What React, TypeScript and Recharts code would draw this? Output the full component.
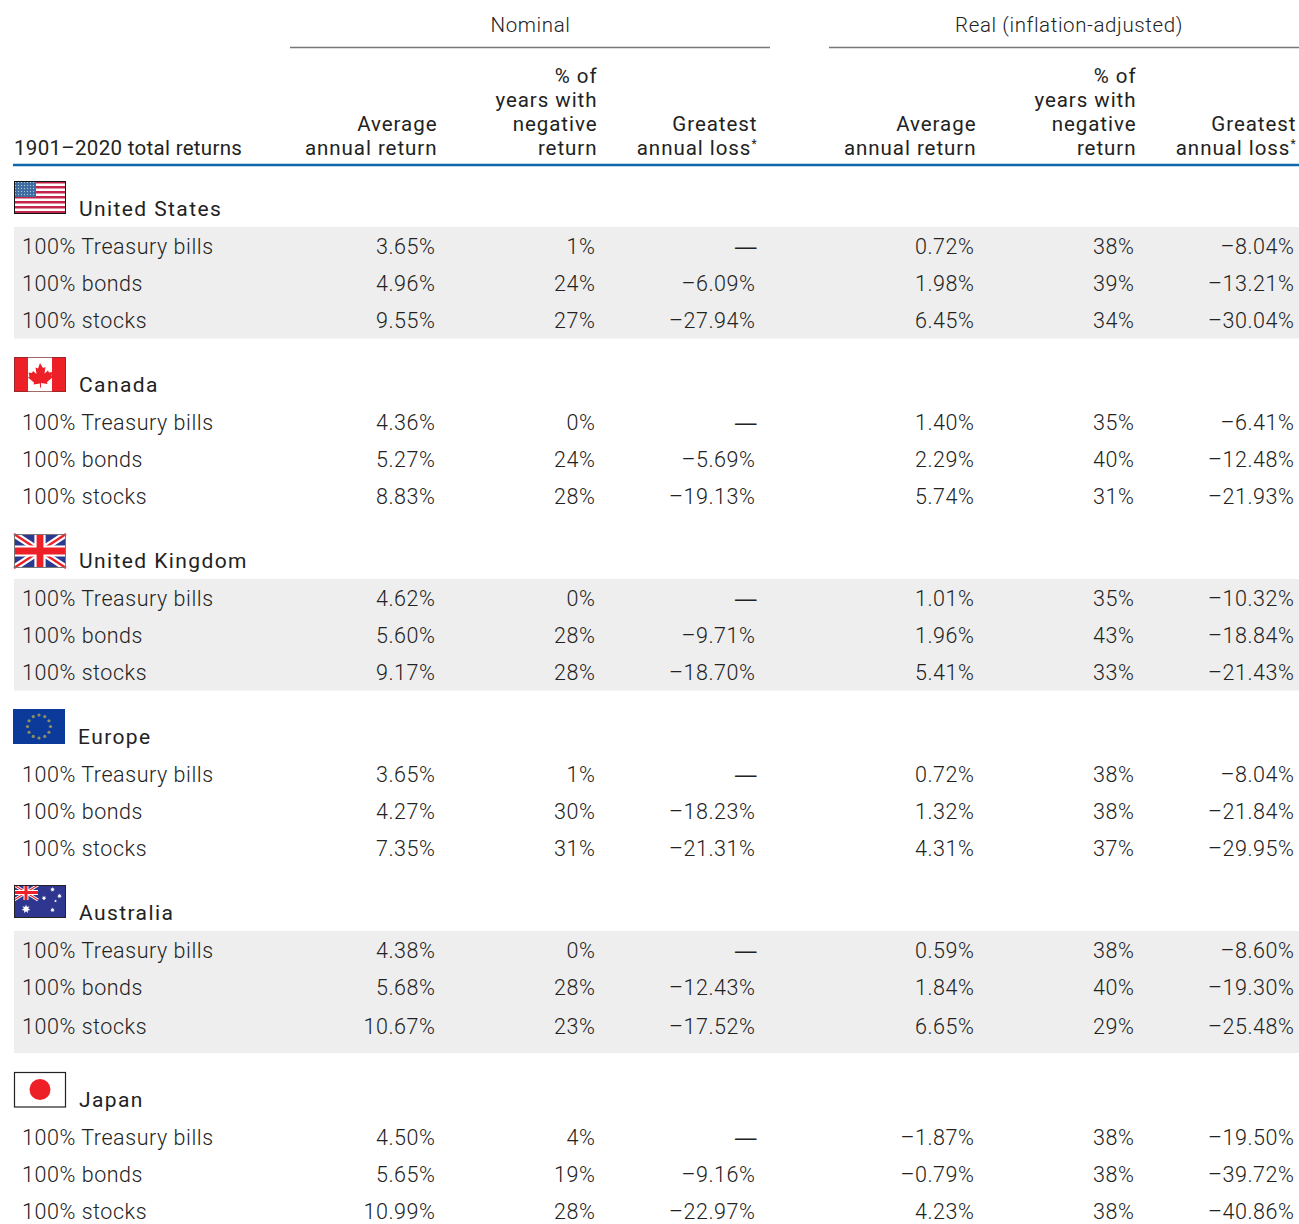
import { ScatterChart, Scatter, XAxis, YAxis, ReferenceArea, ReferenceLine } from 'recharts';

const regions = ['United States', 'Canada', 'United Kingdom', 'Europe', 'Australia', 'Japan'];
const assets = ['100% Treasury bills', '100% bonds', '100% stocks'];

// one value per region/asset row, reading top to bottom
const nominalAverage = [3.65, 4.96, 9.55, 4.36, 5.27, 8.83, 4.62, 5.6, 9.17, 3.65, 4.27, 7.35, 4.38, 5.68, 10.67, 4.5, 5.65, 10.99];
const nominalNegative = [1, 24, 27, 0, 24, 28, 0, 28, 28, 1, 30, 31, 0, 28, 23, 4, 19, 28];
const nominalLoss = [null, -6.09, -27.94, null, -5.69, -19.13, null, -9.71, -18.7, null, -18.23, -21.31, null, -12.43, -17.52, null, -9.16, -22.97];
const realAverage = [0.72, 1.98, 6.45, 1.4, 2.29, 5.74, 1.01, 1.96, 5.41, 0.72, 1.32, 4.31, 0.59, 1.84, 6.65, -1.87, -0.79, 4.23];
const realNegative = [38, 39, 34, 35, 40, 31, 35, 43, 33, 38, 38, 37, 38, 40, 29, 38, 38, 38];
const realLoss = [-8.04, -13.21, -30.04, -6.41, -12.48, -21.93, -10.32, -18.84, -21.43, -8.04, -21.84, -29.95, -8.6, -19.3, -25.48, -19.5, -39.72, -40.86];

const groupTitles = ['Nominal', 'Real (inflation-adjusted)'];
const tableTitle = '1901–2020 total returns';
const averageHeader = ['Average', 'annual return'];
const negativeHeader = ['% of', 'years with', 'negative', 'return'];
const lossHeader = ['Greatest', 'annual loss'];

// layout, in pixels of the page
const WIDTH = 1299;
const HEIGHT = 1224;
const FONT = 'Roboto, sans-serif';
const rowCenters = [246, 283, 320, 422, 459, 496, 598, 635, 672, 774, 811, 848, 950, 987, 1026, 1137, 1174, 1211];
const regionBaselines = [216, 392, 568, 744, 920, 1107];
const regionLeft = [79, 79, 79, 78, 79, 79];
const flagTops = [181, 357, 534, 709, 885, 1072];
const bands = [[227, 338.5], [579, 690.5], [931, 1053]];
const valueRight = [435.5, 595.5, 755.5, 974.5, 1134.5, 1294.5];
const headerRight = [437.5, 597.5, 757.5, 976.5, 1136.5, 1296.5];

const pct = (v: number | null, digits: number) => {
  if (v === null) return '—';
  const s = Math.abs(v).toFixed(digits) + '%';
  return v < 0 ? '–' + s : s;
};

const valueColumns = [
  { values: nominalAverage, digits: 2 },
  { values: nominalNegative, digits: 0 },
  { values: nominalLoss, digits: 2 },
  { values: realAverage, digits: 2 },
  { values: realNegative, digits: 0 },
  { values: realLoss, digits: 2 },
];

const rowLabels = rowCenters.map((y, i) => ({ x: 22, y: y + 7.6, label: assets[i % 3] }));
const regionLabels = regions.map((label, i) => ({ x: regionLeft[i], y: regionBaselines[i], label }));
const flags = regions.map((label, i) => ({ x: 14, y: flagTops[i], label }));

const valueCells = valueColumns.flatMap((col, c) =>
  col.values.map((v, i) => ({
    // the dash sits a little further out than the figures
    x: valueRight[c] + (v === null ? 1.5 : 0),
    y: rowCenters[i] + 7.6,
    label: pct(v, col.digits),
  }))
);

const headerCells = [averageHeader, negativeHeader, lossHeader, averageHeader, negativeHeader, lossHeader].flatMap((lines, c) =>
  lines.map((label, i) => ({
    x: headerRight[c],
    y: 155 - (lines.length - 1 - i) * 24,
    label,
    star: label === 'annual loss',
  }))
);

const titleCells = [
  { x: 530.5, y: 32, label: groupTitles[0] },
  { x: 1069, y: 32, label: groupTitles[1] },
];

const LeftText = ({ cx, cy, payload, size, weight, color, spacing }: any) => (
  <text x={cx} y={cy} textAnchor="start" fontFamily={FONT} fontSize={size} fontWeight={weight} fill={color} letterSpacing={spacing}>
    {payload.label}
  </text>
);

const RightText = ({ cx, cy, payload, size, weight, color, spacing }: any) => (
  <text
    x={cx}
    y={cy}
    textAnchor="end"
    // Roboto's em dash is too short here
    fontFamily={payload.label === '—' ? '"Liberation Sans"' : FONT}
    fontSize={size}
    fontWeight={payload.label === '—' ? 400 : weight}
    fill={color}
    letterSpacing={spacing}
  >
    {payload.label}
    {payload.star ? <tspan fontSize={12} dy={-7}>*</tspan> : null}
  </text>
);

const MiddleText = ({ cx, cy, payload }: any) => (
  <text x={cx} y={cy} textAnchor="middle" fontFamily={FONT} fontSize={20.5} fontWeight={300} fill="#222" letterSpacing={0.6}>
    {payload.label}
  </text>
);

const UNION_BLUE = '#2b3a8f';
const FLAG_RED = '#ee2027';

const UnionJack = ({ w, h }: { w: number; h: number }) => (
  <g>
    <rect width={w} height={h} fill={UNION_BLUE} />
    <path d={`M0 0L${w} ${h}M${w} 0L0 ${h}`} stroke="#fff" strokeWidth={h * 0.2} />
    <path d={`M0 0L${w} ${h}M${w} 0L0 ${h}`} stroke={FLAG_RED} strokeWidth={h * 0.07} />
    <path d={`M${w / 2} 0V${h}M0 ${h / 2}H${w}`} stroke="#fff" strokeWidth={h * 0.33} />
    <path d={`M${w / 2} 0V${h}M0 ${h / 2}H${w}`} stroke={FLAG_RED} strokeWidth={h * 0.2} />
  </g>
);

const Star = ({ x, y, r }: { x: number; y: number; r: number }) => {
  const pts = Array.from({ length: 14 }, (_, i) => {
    const a = (i * Math.PI) / 7;
    const d = i % 2 ? r * 0.5 : r;
    return `${x + d * Math.sin(a)},${y - d * Math.cos(a)}`;
  });
  return <polygon points={pts.join(' ')} fill="#fff" />;
};

const Flag = ({ cx, cy, payload }: any) => {
  const name = payload.label;
  const stars: number[] = Array.from({ length: 12 }, (_, i) => i);
  return (
    <g transform={`translate(${cx} ${cy})`}>
      {name === 'United States' && (
        <g>
          <defs>
            <pattern id="us-stars" width={3} height={3} patternUnits="userSpaceOnUse">
              <rect width={3} height={3} fill="#3a6a9e" />
              <circle cx={1.5} cy={1.5} r={0.7} fill="#a9c0d8" />
            </pattern>
          </defs>
          <rect width={52} height={33} fill="#fff" />
          {[0, 2, 4, 6, 8, 10, 12].map((s) => (
            <rect key={s} y={s * 2.5} width={52} height={2.5} fill="#c2244a" />
          ))}
          <rect width={22} height={16} fill="url(#us-stars)" />
          <rect x={0.5} y={0.5} width={51} height={32} fill="none" stroke="#111" />
        </g>
      )}
      {name === 'Canada' && (
        <g>
          <rect width={52} height={35} fill="#fff" />
          <rect width={14} height={35} fill={FLAG_RED} />
          <rect x={38} width={14} height={35} fill={FLAG_RED} />
          <path
            d="M26 6l3 5 2.500-1-1 6.500 3.500-3 1 2 3.500-.5-1 4 1.500 1-6 5 .5 2-6.500-1v4.500h-1V26.500l-6.500 1 .5-2-6-5 1.500-1-1-4 3.500.5 1-2 3.500 3-1-6.500 2.500 1z"
            fill={FLAG_RED}
          />
          <rect x={0.5} y={0.5} width={51} height={34} fill="none" stroke="#7a2a2a" strokeOpacity={0.7} />
        </g>
      )}
      {name === 'United Kingdom' && (
        <g>
          <UnionJack w={52} h={34} />
          <rect x={0.5} y={0.5} width={51} height={33} fill="none" stroke="#777" />
        </g>
      )}
      {name === 'Europe' && (
        <g transform="translate(-1 0)">
          <rect width={52} height={35} fill="#0b3a9a" />
          {stars.map((i) => (
            <circle
              key={i}
              cx={26 + 11.5 * Math.sin((i * Math.PI) / 6)}
              cy={17.5 - 11.5 * Math.cos((i * Math.PI) / 6)}
              r={1.6}
              fill="#8f8f5e"
            />
          ))}
        </g>
      )}
      {name === 'Australia' && (
        <g>
          <rect width={52} height={33} fill="#2f3690" />
          <UnionJack w={24} h={15} />
          <Star x={12} y={24} r={4.5} />
          <Star x={38.5} y={4.5} r={2.4} />
          <Star x={30} y={13} r={2.4} />
          <Star x={45.5} y={11} r={2.4} />
          <Star x={41.5} y={16} r={1.4} />
          <Star x={38.5} y={25} r={2.4} />
          <rect x={0.5} y={0.5} width={51} height={32} fill="none" stroke="#222" />
        </g>
      )}
      {name === 'Japan' && (
        <g>
          <rect x={0.5} y={0.5} width={51} height={34.5} fill="#fff" stroke="#222" strokeWidth={1.2} />
          <circle cx={26} cy={17.5} r={10.5} fill={FLAG_RED} />
        </g>
      )}
    </g>
  );
};

export default function App() {
  return (
    <div style={{ position: 'absolute', left: 0, top: 0, width: WIDTH, height: HEIGHT }}>
      <ScatterChart width={WIDTH} height={HEIGHT} margin={{ top: 0, right: 0, bottom: 0, left: 0 }}>
        <XAxis type="number" dataKey="x" domain={[0, WIDTH]} hide />
        <YAxis type="number" dataKey="y" domain={[0, HEIGHT]} reversed hide />

        {bands.map(([y1, y2]) => (
          <ReferenceArea key={y1} x1={14} x2={WIDTH} y1={y1} y2={y2} fill="#eeeeee" fillOpacity={1} stroke="none" />
        ))}

        <ReferenceLine segment={[{ x: 290, y: 47.5 }, { x: 770, y: 47.5 }]} stroke="#777" strokeWidth={1.4} />
        <ReferenceLine segment={[{ x: 829, y: 47.5 }, { x: WIDTH, y: 47.5 }]} stroke="#777" strokeWidth={1.4} />
        <ReferenceLine segment={[{ x: 13, y: 165 }, { x: WIDTH, y: 165 }]} stroke="#0f68a8" strokeWidth={2.4} />

        <Scatter data={titleCells} isAnimationActive={false} shape={<MiddleText />} />
        <Scatter
          data={[{ x: 14, y: 155, label: tableTitle }]}
          isAnimationActive={false}
          shape={<LeftText size={20.5} weight={400} color="#222" spacing={0.3} />}
        />
        <Scatter data={headerCells} isAnimationActive={false} shape={<RightText size={20.5} weight={400} color="#222" spacing={0.95} />} />
        <Scatter data={flags} isAnimationActive={false} shape={<Flag />} />
        <Scatter data={regionLabels} isAnimationActive={false} shape={<LeftText size={21} weight={400} color="#222" spacing={1.4} />} />
        <Scatter data={rowLabels} isAnimationActive={false} shape={<LeftText size={21.5} weight={300} color="#222" spacing={0.55} />} />
        <Scatter data={valueCells} isAnimationActive={false} shape={<RightText size={21.5} weight={300} color="#222" spacing={0.55} />} />
      </ScatterChart>
    </div>
  );
}
